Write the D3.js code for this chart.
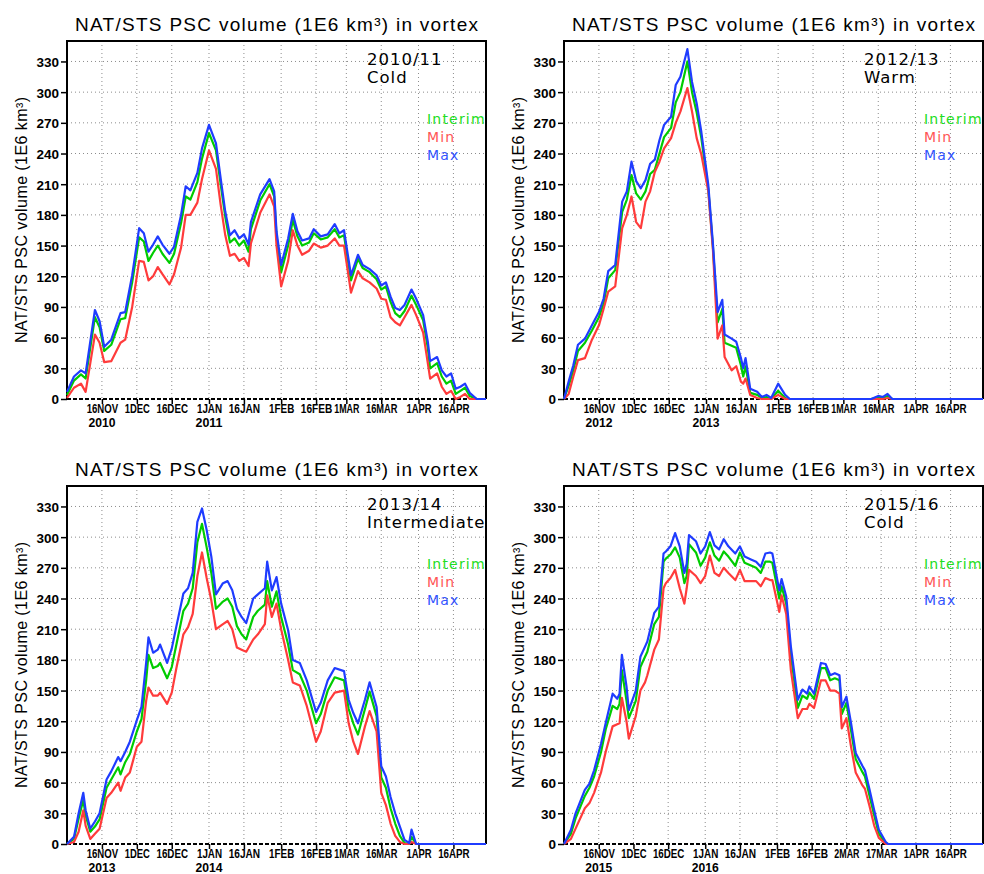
<!DOCTYPE html>
<html>
<head>
<meta charset="utf-8">
<script src="https://cdn.jsdelivr.net/npm/d3@7"></script>
<style>
  body { margin: 0; background: #fff; }
  .grid line { stroke: #8c8c8c; stroke-width: 1; stroke-dasharray: 1,3; }
  .axes text { font-family: "Liberation Sans", Arial, sans-serif; font-weight: bold; fill: #000; }
  .axes line { stroke: #000; stroke-width: 1.5; }
  .xlab text, .xlab { font-family: "Liberation Sans Narrow", "Arial Narrow", "Liberation Sans", sans-serif; font-weight: bold; fill: #000; }
  .thin { font-family: "Liberation Sans", Arial, sans-serif; fill: #000; }
  .note { font-family: "DejaVu Sans", sans-serif; fill: #000; }
</style>
</head>
<body>
<svg id="chart" width="984" height="874"></svg>
<script>
// tick labels
var ticks_std = ["16NOV","1DEC","16DEC","1JAN","16JAN","1FEB","16FEB","1MAR","16MAR","1APR","16APR"];
var ticks_leap = ["16NOV","1DEC","16DEC","1JAN","16JAN","1FEB","16FEB","2MAR","17MAR","1APR","16APR"];
var y_ticks = [0,30,60,90,120,150,180,210,240,270,300,330];
var series_names = ["Interim","Min","Max"];

// 2010/11 cold  (days since 1 Nov)
var days_1011 = [0,3,6,8,12,14,16,19,23,25,28,31,33,35,37,39,41,44,46,49,51,53,56,58,61,64,66,68,70,72,74,76,78,79,83,87,89,90,92,95,97,99,101,104,106,109,112,115,117,119,122,125,127,130,133,135,137,139,141,143,145,148,150,153,155,156,159,161,163,165,167,169,171,173,176,180];
var max_1011 = [7,22,28,25,87,76,51,58,84,85,121,167,162,144,151,159,151,142,149,180,208,204,221,245,268,250,216,183,160,165,157,161,151,173,200,215,203,164,131,157,181,164,155,157,166,159,161,171,162,165,121,141,131,127,121,111,114,100,89,87,92,107,98,82,56,37,41,28,22,25,10,12,15,6,0,0];
var interim_1011 = [4,18,24,20,80,70,47,53,78,79,114,158,154,135,143,150,142,133,142,172,198,195,212,235,260,243,210,178,153,157,150,155,144,166,194,210,198,160,124,150,175,159,150,153,162,156,158,166,158,160,116,137,128,124,117,107,110,95,84,80,86,101,92,77,50,30,35,22,15,18,5,8,11,3,0,0];
var min_1011 = [1,11,15,7,63,55,36,37,55,58,90,135,134,116,120,129,122,112,122,148,180,180,192,215,243,225,190,160,140,142,135,138,130,152,182,200,188,150,110,135,165,150,141,145,152,148,150,157,150,150,104,125,118,114,108,98,97,80,75,72,80,92,82,65,35,20,25,12,5,8,0,2,5,0,0,0];

// 2012/13 warm
var days_1213 = [0,2,4,6,9,12,15,17,19,22,25,27,29,31,33,35,37,39,41,43,46,48,50,53,55,57,59,62,64,66,68,69,72,74,76,77,78,80,83,85,87,89,92,95,97,132,135,137,139,141,180];
var max_1213 = [0,17,33,53,59,72,85,98,125,131,193,203,232,213,206,214,230,234,253,268,276,307,315,342,310,289,261,209,151,85,97,63,59,56,40,30,40,10,7,2,4,1,15,4,0,0,3,2,5,0,0];
var interim_1213 = [0,13,28,47,55,67,80,93,118,126,183,195,219,201,195,203,220,224,240,256,265,290,300,330,300,280,255,205,148,75,88,55,52,50,33,22,32,6,4,1,2,0,8,1,0,0,2,1,3,0,0];
var min_1213 = [0,5,22,38,40,58,72,88,105,110,167,180,198,173,167,193,203,222,232,245,255,270,281,304,281,255,239,203,145,59,72,41,28,32,17,15,20,4,1,0,0,0,4,0,0,0,0,0,1,0,0];

// 2013/14 intermediate
var days_1314 = [0,3,5,7,8,10,12,14,17,19,22,23,25,27,30,32,34,35,37,39,40,43,45,47,50,52,54,56,58,60,62,64,67,69,71,73,75,77,80,82,85,86,88,90,92,95,97,100,103,107,109,112,115,119,121,123,125,128,130,133,135,137,139,141,143,145,147,148,150,180];
var max_1314 = [0,7,30,50,33,15,22,30,63,71,85,81,90,100,121,134,177,202,187,190,195,177,191,213,245,250,265,315,328,307,281,244,255,257,248,230,222,216,240,244,250,276,248,261,235,209,180,177,160,129,138,160,172,169,141,128,118,141,158,134,76,66,46,30,17,4,1,14,0,0];
var interim_1314 = [0,5,25,43,28,12,17,24,55,63,75,68,80,88,110,122,160,185,172,174,177,162,173,195,228,235,250,295,313,290,265,230,237,240,232,213,205,200,222,228,234,257,232,247,222,195,170,166,150,118,127,150,163,160,132,118,107,132,149,125,65,55,35,20,8,1,0,7,0,0];
var min_1314 = [0,2,12,33,18,5,10,15,45,50,60,52,65,70,95,100,140,153,145,145,148,137,148,172,205,212,225,262,285,260,238,210,215,218,210,192,190,188,200,205,215,243,222,235,210,180,158,155,135,100,110,138,148,150,118,100,88,115,130,110,50,38,20,8,2,0,0,2,0,0];

// 2015/16 cold
var days_1516 = [0,3,5,9,11,13,16,18,21,23,24,25,27,28,31,33,35,36,39,41,43,44,46,48,50,52,53,54,57,59,61,63,65,67,69,71,74,76,78,81,83,85,87,89,90,93,94,96,98,101,103,105,106,108,111,113,115,117,119,120,122,124,126,129,130,132,134,136,139,140,181];
var max_1516 = [0,14,30,53,59,72,98,118,147,142,147,185,154,131,150,183,193,198,226,232,284,286,291,304,291,265,274,302,296,284,291,305,292,288,298,291,284,291,281,278,276,271,284,285,284,248,259,242,193,141,151,147,154,147,177,176,165,167,165,134,144,118,89,76,72,53,33,14,2,0,0];
var interim_1516 = [0,10,25,47,55,66,90,112,135,132,137,170,140,123,140,173,183,188,215,222,276,279,283,290,280,255,262,293,285,272,280,295,282,277,286,281,272,285,275,272,270,265,276,276,275,240,252,235,185,133,145,142,148,142,172,172,160,162,160,127,138,111,83,70,66,47,28,10,1,0,0];
var min_1516 = [0,5,15,35,40,50,70,90,115,117,118,143,120,103,125,150,158,165,190,200,250,255,260,268,250,235,250,268,262,255,262,282,265,262,270,265,258,268,257,257,257,252,260,258,258,227,243,225,170,123,132,132,137,133,160,160,150,150,147,113,123,95,70,57,54,37,18,6,0,0,0];

var seasons = [
    {y0: 2010, label: "2010/11", kind: "Cold", days: days_1011, vals: [interim_1011, min_1011, max_1011], ticks: ticks_std},
    {y0: 2012, label: "2012/13", kind: "Warm", days: days_1213, vals: [interim_1213, min_1213, max_1213], ticks: ticks_std},
    {y0: 2013, label: "2013/14", kind: "Intermediate", days: days_1314, vals: [interim_1314, min_1314, max_1314], ticks: ticks_std},
    {y0: 2015, label: "2015/16", kind: "Cold", days: days_1516, vals: [interim_1516, min_1516, max_1516], ticks: ticks_leap}
];

// panel placement
var layout = [{left: 67, top: 41}, {left: 564, top: 41}, {left: 67, top: 486}, {left: 564, top: 486}];
var width = 419, height = 358;
var line_colors = ["#00cc00", "#ff3b3b", "#1f3cff"];
var text_colors = ["#22dd22", "#ff5555", "#3355ff"];

var svg = d3.select('#chart');
var parseTick = d3.timeParse("%d%b");

seasons.forEach(function(s, k){
    var p = layout[k];
    var g = svg.append("g").attr("transform", "translate(" + p.left + "," + p.top + ")");

    var start = new Date(s.y0, 10, 1);
    var x = d3.scaleTime()
        .domain([start, new Date(s.y0 + 1, 3, 30)])
        .range([0, width]);
    var y = d3.scaleLinear().domain([0, 350]).range([height, 0]);

    // tick dates from the labels
    var tickDates = s.ticks.map(function(t){
        var d = parseTick(t);
        var yr = d.getMonth() >= 10 ? s.y0 : s.y0 + 1;
        return new Date(yr, d.getMonth(), d.getDate());
    });

    // gridlines
    g.append("g").attr("class", "grid")
        .selectAll("line.h").data(y_ticks.slice(1)).enter().append("line")
        .attr("x1", 0).attr("x2", width)
        .attr("y1", function(d){ return y(d); }).attr("y2", function(d){ return y(d); });
    g.append("g").attr("class", "grid")
        .selectAll("line.v").data(tickDates).enter().append("line")
        .attr("y1", 0).attr("y2", height)
        .attr("x1", function(d){ return x(d); }).attr("x2", function(d){ return x(d); });

    // frame: solid left/top/right, dashed bottom
    g.append("path")
        .attr("d", "M0," + height + "V0H" + width + "V" + height)
        .attr("fill", "none").attr("stroke", "#000").attr("stroke-width", 2);
    g.append("line")
        .attr("x1", 0).attr("x2", width).attr("y1", height).attr("y2", height)
        .attr("stroke", "#000").attr("stroke-width", 2).attr("stroke-dasharray", "4,2");

    // y axis
    var ya = g.append("g").attr("class", "axes")
        .call(d3.axisLeft(y).tickValues(y_ticks).tickSize(6).tickPadding(2));
    ya.select(".domain").remove();
    ya.selectAll("text").style("font-size", "13.5px").attr("dy", "0.36em");

    // x axis
    var xa = g.append("g").attr("class", "axes xlab")
        .attr("transform", "translate(0," + height + ")")
        .call(d3.axisBottom(x).tickValues(tickDates)
            .tickFormat(function(d, i){ return s.ticks[i]; })
            .tickSize(5).tickPadding(0.5));
    xa.select(".domain").remove();
    xa.selectAll("text")
        .style("font-family", "Liberation Sans Narrow, Arial Narrow, Liberation Sans, sans-serif")
        .style("font-size", "12px")
        .attr("textLength", function(d, i){ return s.ticks[i].length * 6.3; })
        .attr("lengthAdjust", "spacingAndGlyphs");

    // year labels under first tick and 1JAN
    [[tickDates[0], s.y0], [new Date(s.y0 + 1, 0, 1), s.y0 + 1]].forEach(function(yl){
        g.append("text")
            .attr("class", "xlab")
            .attr("x", x(yl[0])).attr("y", height + 27.5)
            .attr("text-anchor", "middle")
            .attr("textLength", 27).attr("lengthAdjust", "spacingAndGlyphs")
            .style("font-size", "12px")
            .text(yl[1]);
    });

    // series lines
    var line = d3.line()
        .x(function(d){ return x(d3.timeDay.offset(start, d[0])); })
        .y(function(d){ return y(d[1]); });
    s.vals.forEach(function(v, j){
        var xy = s.days.map(function(d, i){ return [d, v[i]]; });
        g.append("path")
            .datum(xy)
            .attr("fill", "none")
            .attr("stroke", line_colors[j])
            .attr("stroke-width", 2.2)
            .attr("stroke-linejoin", "round")
            .attr("d", line);
    });

    // title
    g.append("text").attr("class", "thin")
        .attr("x", width / 2).attr("y", -10)
        .attr("text-anchor", "middle")
        .attr("textLength", 403).attr("lengthAdjust", "spacing")
        .style("font-size", "19px")
        .text("NAT/STS PSC volume (1E6 km³) in vortex");

    // y label
    g.append("text").attr("class", "thin")
        .attr("transform", "rotate(-90)")
        .attr("x", -height / 2).attr("y", -40)
        .attr("text-anchor", "middle")
        .attr("textLength", 246).attr("lengthAdjust", "spacing")
        .style("font-size", "16px")
        .text("NAT/STS PSC volume (1E6 km³)");

    // season annotation
    g.append("text").attr("class", "note")
        .attr("x", 300).attr("y", 24)
        .style("font-size", "16.5px").style("letter-spacing", "1px")
        .text(s.label);
    g.append("text").attr("class", "note")
        .attr("x", 300).attr("y", 42)
        .style("font-size", "16.5px").style("letter-spacing", "1px")
        .text(s.kind);

    // legend
    series_names.forEach(function(n, j){
        g.append("text")
            .attr("x", 360).attr("y", 83 + j * 18)
            .style("font-family", "DejaVu Sans, sans-serif")
            .style("font-size", "14px").style("letter-spacing", "1.2px")
            .style("fill", text_colors[j])
            .text(n);
    });
});
</script>
</body>
</html>
